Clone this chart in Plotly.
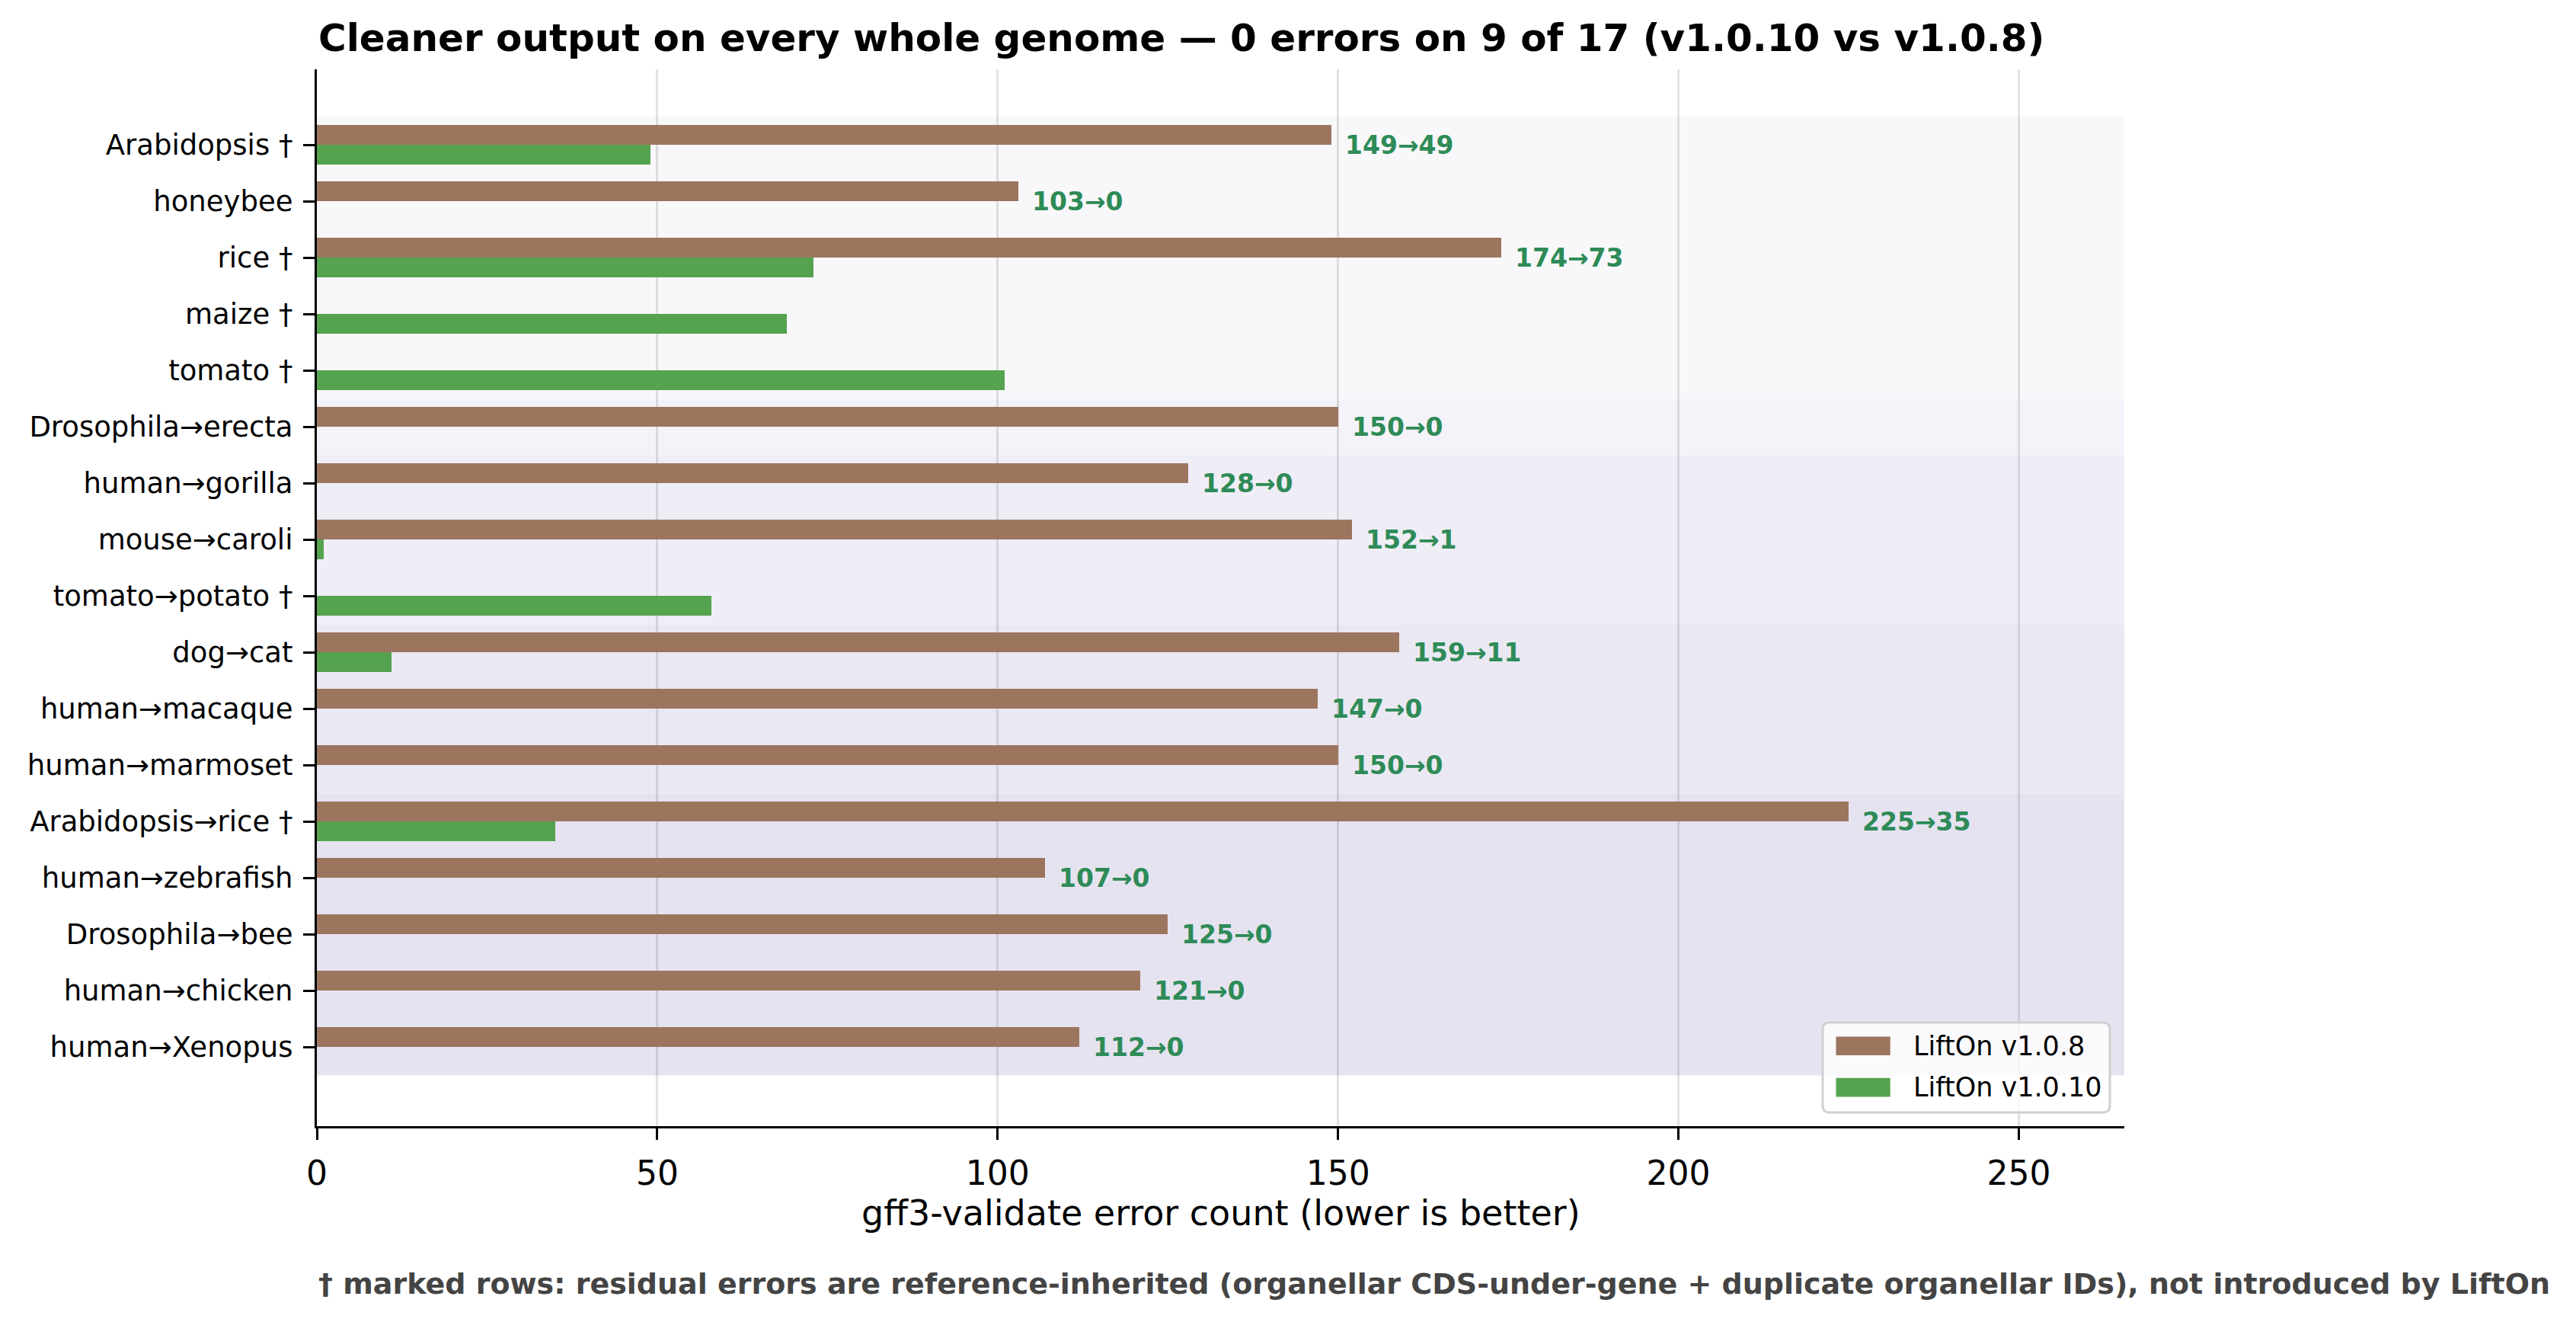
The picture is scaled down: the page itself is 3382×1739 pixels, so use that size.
import plotly.graph_objects as go

categories = [
    "Arabidopsis †", "honeybee", "rice †", "maize †", "tomato †",
    "Drosophila→erecta", "human→gorilla", "mouse→caroli", "tomato→potato †",
    "dog→cat", "human→macaque", "human→marmoset", "Arabidopsis→rice †",
    "human→zebrafish", "Drosophila→bee", "human→chicken", "human→Xenopus",
]
v108 = [149, 103, 174, None, None, 150, 128, 152, None, 159, 147, 150, 225, 107, 125, 121, 112]
v110 = [49, 0, 73, 69, 101, 0, 0, 1, 58, 11, 0, 0, 35, 0, 0, 0, 0]
groups = [0, 0, 0, 0, 0, 1, 2, 2, 2, 3, 3, 3, 4, 4, 4, 4, 4]
band_colors = ["#f8f8fb", "#f4f3f9", "#efedf6", "#eae9f3", "#e6e3f1"]
x_ticks = [0, 50, 100, 150, 200, 250]
series_names = ["LiftOn v1.0.8", "LiftOn v1.0.10"]

W, H = 3382, 1739
L, R, T, B = 416, 3382 - 2789, 91, 1739 - 1478
plot_w = W - L - R
plot_h = H - T - B

BROWN = "#9c755f"
GREEN = "#55a24f"
LABEL = "#2e8b57"
FONT = "DejaVu Sans"


def px(xp):
    return (xp - L) / plot_w


def py(yp):
    return (H - B - yp) / plot_h


idx = list(range(len(categories)))
fig = go.Figure()
fig.add_trace(go.Bar(
    y=idx, x=v108, orientation="h", width=0.35, offset=-0.35,
    marker=dict(color=BROWN, line=dict(width=0)), name=series_names[0],
))
fig.add_trace(go.Bar(
    y=idx, x=v110, orientation="h", width=0.35, offset=0.0,
    marker=dict(color=GREEN, line=dict(width=0)), name=series_names[1],
))

shapes = []
start = 0
for i in range(1, len(groups) + 1):
    if i == len(groups) or groups[i] != groups[start]:
        shapes.append(dict(
            type="rect", xref="x domain", yref="y", x0=0, x1=1,
            y0=start - 0.5, y1=i - 0.5, fillcolor=band_colors[groups[start]],
            line=dict(width=0), layer="below",
        ))
        start = i

# custom legend (matplotlib-style rounded box with rectangular patches)
bx0, bx1, by0, by1, rad = 2393, 2770, 1342, 1460, 9
rx, ry = rad / plot_w, rad / plot_h
X0, X1, Y0, Y1 = px(bx0), px(bx1), py(by1), py(by0)
path = (f"M {X0+rx},{Y0} L {X1-rx},{Y0} Q {X1},{Y0} {X1},{Y0+ry} "
        f"L {X1},{Y1-ry} Q {X1},{Y1} {X1-rx},{Y1} L {X0+rx},{Y1} "
        f"Q {X0},{Y1} {X0},{Y1-ry} L {X0},{Y0+ry} Q {X0},{Y0} {X0+rx},{Y0} Z")
shapes.append(dict(type="path", xref="paper", yref="paper", path=path,
                   fillcolor="rgba(255,255,255,0.8)",
                   line=dict(color="#d0d0d0", width=3), layer="above"))
legend_rows = [(1360.5, 1385, BROWN), (1414.7, 1439.5, GREEN)]
annotations = []
for (r0, r1, col), nm in zip(legend_rows, series_names):
    shapes.append(dict(type="rect", xref="paper", yref="paper",
                       x0=px(2410.5), x1=px(2481.7), y0=py(r1), y1=py(r0),
                       fillcolor=col, line=dict(width=0), layer="above"))
    annotations.append(dict(
        x=px(2510), y=py((r0 + r1) / 2), xref="paper", yref="paper", text=nm,
        showarrow=False, xanchor="left", yanchor="middle",
        font=dict(family=FONT, size=35, color="black"),
    ))

for i, (a, b) in enumerate(zip(v108, v110)):
    if a is None:
        continue
    annotations.append(dict(
        x=max(a, b), y=i, xref="x", yref="y", text=f"<b>{a}→{b}</b>",
        showarrow=False, xanchor="left", yanchor="middle", xshift=16,
        font=dict(family=FONT, size=33, color=LABEL),
    ))

annotations.append(dict(
    x=0, y=py(50), xref="paper", yref="paper",
    text="<b>Cleaner output on every whole genome — 0 errors on 9 of 17 (v1.0.10 vs v1.0.8)</b>",
    showarrow=False, xanchor="left", yanchor="middle",
    font=dict(family=FONT, size=50, color="black"),
))
annotations.append(dict(
    x=0.5, y=py(1592), xref="paper", yref="paper",
    text="gff3-validate error count (lower is better)",
    showarrow=False, xanchor="center", yanchor="middle",
    font=dict(family=FONT, size=46, color="black"),
))
annotations.append(dict(
    x=0, y=py(1685), xref="paper", yref="paper",
    text="<b>† marked rows: residual errors are reference-inherited (organellar CDS-under-gene + duplicate organellar IDs), not introduced by LiftOn</b>",
    showarrow=False, xanchor="left", yanchor="middle",
    font=dict(family=FONT, size=38, color="#444444"),
))

fig.update_layout(
    width=W, height=H,
    margin=dict(l=L, r=R, t=T, b=B, pad=0),
    paper_bgcolor="white", plot_bgcolor="white",
    barmode="overlay", bargap=0,
    showlegend=False,
    shapes=shapes, annotations=annotations,
    hovermode=False,
    font=dict(family=FONT, color="black"),
)
fig.update_xaxes(
    range=[0, 265.5], tickvals=x_ticks, ticktext=[str(t) for t in x_ticks],
    showgrid=True, gridcolor="rgba(0,0,0,0.11)", gridwidth=3,
    zeroline=False, showline=True, linecolor="black", linewidth=3.3,
    ticks="outside", ticklen=15, tickwidth=3.3, tickcolor="black",
    tickfont=dict(family=FONT, size=44, color="black"),
    ticklabelstandoff=6,
)
fig.update_yaxes(
    range=[len(categories) - 1 + 1.4, -1.34],
    tickvals=idx, ticktext=categories,
    showgrid=False, zeroline=False, showline=True, linecolor="black", linewidth=3.3,
    ticks="outside", ticklen=15, tickwidth=3.3, tickcolor="black",
    tickfont=dict(family=FONT, size=37, color="black"),
    ticklabelstandoff=6,
)

fig.write_html("out.html")
